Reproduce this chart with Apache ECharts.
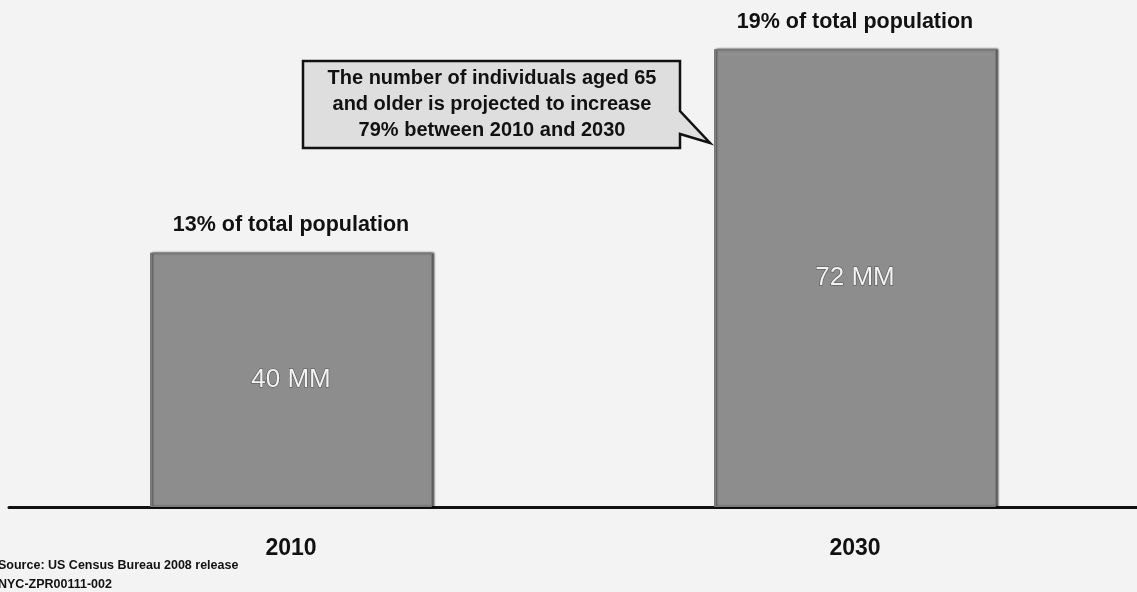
<!DOCTYPE html>
<html>
<head>
<meta charset="utf-8">
<script src="https://cdn.jsdelivr.net/npm/echarts@6/dist/echarts.min.js"></script>
<style>
html,body{margin:0;padding:0;background:#f3f3f3;}
#chart{width:1137px;height:592px;}
</style>
</head>
<body>
<div id="chart"></div>
<script>
var categories = ['2010', '2030'];
var population = [40, 72];
var shareLabels = ['13% of total population', '19% of total population'];
var calloutText = 'The number of individuals aged 65\nand older is projected to increase\n79% between 2010 and 2030';
var sourceLines = ['Source: US Census Bureau 2008 release', 'NYC-ZPR00111-002'];

var FONT = '"Liberation Sans", Arial, Helvetica, sans-serif';
var chart = echarts.init(document.getElementById('chart'), null, {renderer: 'canvas'});
chart.setOption({
  backgroundColor: '#f3f3f3',
  animation: false,
  grid: {left: 9, right: 0, top: 0, bottom: 85, containLabel: false},
  xAxis: {
    type: 'category',
    data: categories,
    axisLine: {show: true, lineStyle: {color: '#111', width: 3}},
    axisTick: {show: false},
    axisLabel: {color: '#111', fontFamily: FONT, fontWeight: 'bold', fontSize: 23, margin: 30}
  },
  yAxis: {
    type: 'value', min: 0, max: 79.7,
    show: false,
    splitLine: {show: false}
  },
  series: [
    {
      type: 'bar',
      data: population,
      barWidth: 282,
      itemStyle: {color: '#8d8d8d', borderColor: '#7a7a7a', borderWidth: 1,
        shadowColor: 'rgba(0,0,0,0.6)', shadowOffsetX: 2, shadowBlur: 2},
      label: {
        show: true, position: 'inside',
        formatter: function (p) { return p.value + ' MM'; },
        fontFamily: FONT, fontSize: 26, color: '#f2f2f2',
        textBorderColor: '#555', textBorderWidth: 1.2
      },
      z: 2
    },
    {
      type: 'bar',
      data: population,
      barWidth: 282,
      barGap: '-100%',
      itemStyle: {color: 'rgba(0,0,0,0)'},
      label: {
        show: true, position: 'top', distance: 16,
        formatter: function (p) { return shareLabels[p.dataIndex]; },
        fontFamily: FONT, fontWeight: 'bold', fontSize: 21.5, color: '#111'
      },
      z: 3
    }
  ],
  graphic: [
    {
      type: 'polygon',
      shape: {points: [[303, 61], [680, 61], [680, 111], [710, 143], [680, 134], [680, 148], [303, 148]]},
      style: {fill: '#dedede', stroke: '#111', lineWidth: 2.5},
      z: 10
    },
    {
      type: 'text', x: 492, y: 104,
      style: {text: calloutText, fill: '#111', font: 'bold 20px ' + FONT,
        align: 'center', verticalAlign: 'middle', lineHeight: 26},
      z: 11
    },
    {
      type: 'text', x: -2, y: 566,
      style: {text: sourceLines[0], fill: '#111', font: 'bold 12.5px ' + FONT, verticalAlign: 'middle'}
    },
    {
      type: 'text', x: -2, y: 585,
      style: {text: sourceLines[1], fill: '#111', font: 'bold 12.5px ' + FONT, verticalAlign: 'middle'}
    }
  ]
});
</script>
</body>
</html>
